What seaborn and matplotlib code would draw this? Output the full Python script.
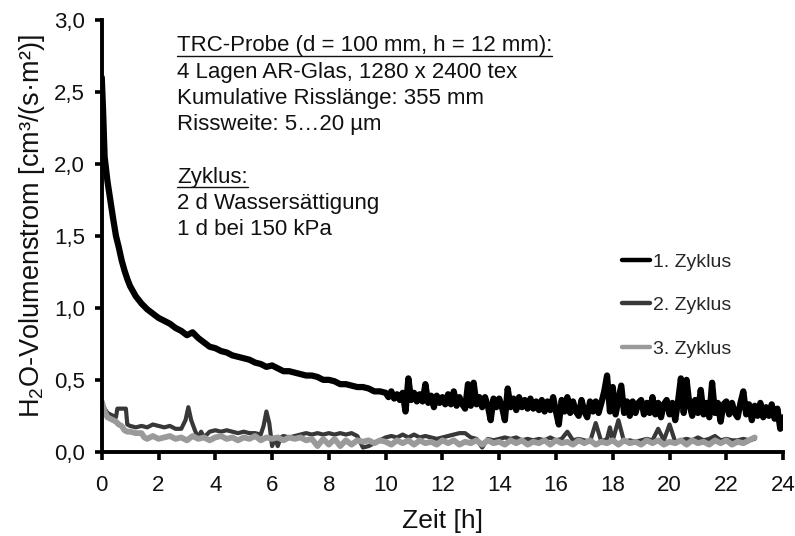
import numpy as np
import pandas as pd
import matplotlib
matplotlib.use("Agg")
import matplotlib.pyplot as plt
import seaborn as sns
from matplotlib.lines import Line2D

# --- data ---
# 1. Zyklus: smooth decay up to 10 h, noisy plateau afterwards
t1_early = [0.0, 0.05, 0.1, 0.2, 0.3, 0.4, 0.5, 0.6, 0.7, 0.8, 0.9, 1.0, 1.2, 1.4, 1.6, 1.8,
            2.0, 2.2, 2.4, 2.6, 2.8, 3.0, 3.2, 3.4, 3.6, 3.8, 4.0, 4.2, 4.4, 4.6, 4.8,
            5.0, 5.2, 5.4, 5.6, 5.8, 6.0, 6.2, 6.4, 6.6, 6.8, 7.0, 7.2, 7.4, 7.6, 7.8,
            8.0, 8.2, 8.4, 8.6, 8.8, 9.0, 9.2, 9.4, 9.6, 9.8]
v1_early = [2.60, 2.35, 2.05, 1.88, 1.75, 1.62, 1.50, 1.42, 1.33, 1.26, 1.20, 1.15, 1.08, 1.03, 0.99, 0.96,
            0.93, 0.91, 0.89, 0.86, 0.84, 0.81, 0.83, 0.79, 0.76, 0.73, 0.72, 0.70, 0.69, 0.67, 0.66,
            0.65, 0.64, 0.62, 0.61, 0.59, 0.60, 0.58, 0.56, 0.56, 0.55, 0.54, 0.53, 0.53, 0.52, 0.50,
            0.50, 0.49, 0.47, 0.47, 0.46, 0.45, 0.45, 0.44, 0.42, 0.42]
t1_late = np.round(np.arange(10.0, 24.01, 0.1), 1)
v1_late = [0.41, 0.38, 0.42, 0.37, 0.40, 0.36, 0.41, 0.28, 0.51, 0.36,
           0.41, 0.35, 0.40, 0.35, 0.47, 0.34, 0.39, 0.31, 0.39, 0.34,
           0.38, 0.33, 0.40, 0.33, 0.42, 0.32, 0.38, 0.33, 0.30, 0.47,
           0.32, 0.48, 0.33, 0.38, 0.31, 0.38, 0.32, 0.22, 0.37, 0.31,
           0.37, 0.31, 0.22, 0.44, 0.31, 0.37, 0.29, 0.38, 0.31, 0.36,
           0.30, 0.37, 0.30, 0.35, 0.29, 0.36, 0.28, 0.35, 0.29, 0.38,
           0.28, 0.19, 0.36, 0.28, 0.38, 0.27, 0.35, 0.28, 0.25, 0.36,
           0.28, 0.24, 0.35, 0.28, 0.35, 0.27, 0.34, 0.42, 0.53, 0.28,
           0.45, 0.26, 0.36, 0.46, 0.27, 0.35, 0.25, 0.35, 0.27, 0.34,
           0.36, 0.26, 0.34, 0.27, 0.38, 0.26, 0.34, 0.24, 0.33, 0.36,
           0.26, 0.34, 0.22, 0.35, 0.51, 0.27, 0.50, 0.33, 0.25, 0.36,
           0.27, 0.43, 0.26, 0.34, 0.24, 0.48, 0.27, 0.34, 0.21, 0.33,
           0.35, 0.26, 0.34, 0.27, 0.24, 0.34, 0.42, 0.26, 0.33, 0.22,
           0.32, 0.25, 0.34, 0.24, 0.31, 0.25, 0.33, 0.23, 0.30, 0.16,
           0.24]

# 2. Zyklus
t2 = [0.0, 0.1, 0.2, 0.3, 0.4, 0.5, 0.55, 0.7, 0.85, 0.9, 1.0, 1.2, 1.4, 1.6, 1.8,
      2.0, 2.2, 2.4, 2.6, 2.8, 2.95, 3.05, 3.15, 3.3, 3.4, 3.5, 3.6, 3.8,
      4.0, 4.2, 4.4, 4.6, 4.8, 5.0, 5.2, 5.4, 5.6, 5.7, 5.8, 5.9,
      6.0, 6.1, 6.2, 6.3, 6.4, 6.6, 6.8, 7.0, 7.2, 7.4, 7.6, 7.8,
      8.0, 8.2, 8.4, 8.6, 8.8, 9.0, 9.2, 9.4, 9.6, 9.8,
      10.0, 10.2, 10.4, 10.6, 10.8, 11.0, 11.2, 11.4, 11.6, 11.8,
      12.0, 12.2, 12.4, 12.6, 12.8, 13.0, 13.2, 13.4, 13.6, 13.8,
      14.0, 14.2, 14.4, 14.6, 14.8, 15.0, 15.2, 15.4, 15.6, 15.8,
      16.0, 16.2, 16.4, 16.6, 16.8, 17.0, 17.2, 17.4, 17.6, 17.8, 17.9,
      18.0, 18.2, 18.4, 18.6, 18.8, 19.0, 19.2, 19.4, 19.6, 19.8,
      20.0, 20.2, 20.4, 20.6, 20.8, 21.0, 21.2, 21.4, 21.6, 21.8,
      22.0, 22.2, 22.4, 22.6, 22.8, 23.0]
v2 = [0.33, 0.30, 0.27, 0.26, 0.25, 0.24, 0.30, 0.30, 0.30, 0.19, 0.18, 0.17, 0.18, 0.17, 0.19,
      0.18, 0.17, 0.18, 0.16, 0.16, 0.22, 0.31, 0.22, 0.14, 0.10, 0.14, 0.10, 0.14,
      0.15, 0.14, 0.15, 0.14, 0.13, 0.14, 0.13, 0.13, 0.12, 0.18, 0.28, 0.20,
      0.04, 0.10, 0.04, 0.10, 0.11, 0.10, 0.11, 0.12, 0.13, 0.12, 0.13, 0.12,
      0.13, 0.12, 0.13, 0.12, 0.13, 0.11, 0.03, 0.04, 0.06, 0.08,
      0.10, 0.11, 0.10, 0.12, 0.10, 0.12, 0.10, 0.11, 0.10, 0.09,
      0.10, 0.11, 0.12, 0.13, 0.13, 0.10, 0.09, 0.03, 0.09, 0.08,
      0.09, 0.10, 0.09, 0.10, 0.08, 0.09, 0.08, 0.09, 0.08, 0.10,
      0.08, 0.09, 0.14, 0.08, 0.09, 0.08, 0.07, 0.20, 0.07, 0.09, 0.17,
      0.08, 0.22, 0.07, 0.08, 0.07, 0.08, 0.09, 0.08, 0.16, 0.08,
      0.19, 0.07, 0.08, 0.09, 0.08, 0.10, 0.08, 0.09, 0.11, 0.08,
      0.09, 0.08, 0.08, 0.09, 0.08, 0.09]

# 3. Zyklus
t3_early = [0.0, 0.1, 0.2, 0.3, 0.4, 0.5, 0.6, 0.7, 0.8, 0.9, 1.0, 1.2, 1.4, 1.5, 1.6, 1.8, 2.0, 2.2]
v3_early = [0.35, 0.28, 0.24, 0.23, 0.22, 0.21, 0.19, 0.18, 0.15, 0.14, 0.14, 0.13, 0.13, 0.10, 0.09, 0.11, 0.09, 0.10]
t3_late = np.round(np.arange(2.4, 23.01, 0.2), 1)
v3_late = [0.11, 0.09, 0.10, 0.08, 0.11, 0.09, 0.10, 0.08, 0.10, 0.11,
           0.09, 0.10, 0.08, 0.10, 0.09, 0.11, 0.08, 0.10, 0.09, 0.10,
           0.08, 0.10, 0.09, 0.10, 0.08, 0.09, 0.04, 0.09, 0.05, 0.09,
           0.04, 0.08, 0.05, 0.08, 0.07, 0.08, 0.06, 0.08, 0.07, 0.05,
           0.08, 0.06, 0.08, 0.05, 0.08, 0.06, 0.07, 0.05, 0.08, 0.06,
           0.08, 0.05, 0.07, 0.06, 0.08, 0.05, 0.08, 0.06, 0.07, 0.05,
           0.08, 0.06, 0.08, 0.05, 0.07, 0.06, 0.08, 0.05, 0.08, 0.06,
           0.07, 0.05, 0.08, 0.06, 0.08, 0.05, 0.07, 0.06, 0.08, 0.05,
           0.08, 0.06, 0.07, 0.05, 0.08, 0.06, 0.08, 0.05, 0.07, 0.06,
           0.08, 0.05, 0.08, 0.06, 0.07, 0.05, 0.08, 0.06, 0.08, 0.05,
           0.07, 0.06, 0.08, 0.10]

series_names = ["1. Zyklus", "2. Zyklus", "3. Zyklus"]
series_colors = ["#000000", "#383838", "#9a9a9a"]
x_ticks = list(range(0, 25, 2))
y_ticks = [0.0, 0.5, 1.0, 1.5, 2.0, 2.5, 3.0]
y_tick_labels = ["0,0", "0,5", "1,0", "1,5", "2,0", "2,5", "3,0"]
info_lines = ["TRC-Probe (d = 100 mm, h = 12 mm):",
              "4 Lagen AR-Glas, 1280 x 2400 tex",
              "Kumulative Risslänge: 355 mm",
              "Rissweite: 5…20 µm",
              "",
              "Zyklus:",
              "2 d Wassersättigung",
              "1 d bei 150 kPa"]
underlined = [0, 5]

df1 = pd.DataFrame({"t": list(t1_early) + list(t1_late), "v": list(v1_early) + list(v1_late)})
df2 = pd.DataFrame({"t": t2, "v": v2})
df3 = pd.DataFrame({"t": list(t3_early) + list(t3_late), "v": list(v3_early) + list(v3_late)})

sns.set_style("ticks")
plt.rcParams["font.family"] = ["Liberation Sans", "DejaVu Sans"]
plt.rcParams["mathtext.fontset"] = "custom"
plt.rcParams["mathtext.rm"] = "Liberation Sans"
plt.rcParams["mathtext.it"] = "Liberation Sans"

fig = plt.figure(figsize=(7.95, 5.36), dpi=100)
ax = fig.add_axes([0.128, 0.157, 0.857, 0.806])

widths = [4.5, 3.0, 4.2]
for df, name, col, lw in zip([df1, df2, df3], series_names, series_colors, widths):
    sns.lineplot(data=df, x="t", y="v", ax=ax, color=col, linewidth=lw,
                 estimator=None, sort=False, label=name, legend=False)

ax.set_xlim(0, 24)
ax.set_ylim(0, 3.0)
ax.set_xticks(x_ticks)
ax.set_yticks(y_ticks)
ax.set_yticklabels(y_tick_labels)
ax.tick_params(axis="both", labelsize=16, width=2.6, color="black", labelcolor="#111111")
ax.tick_params(axis="x", length=6, pad=11)
ax.tick_params(axis="y", length=5, pad=7)
for side in ["top", "right"]:
    ax.spines[side].set_visible(False)
for side in ["left", "bottom"]:
    ax.spines[side].set_linewidth(2.8)
    ax.spines[side].set_color("black")

ax.set_xlabel("Zeit [h]", fontsize=19, color="#111111", labelpad=9)
ax.set_ylabel(r"H$_2$O-Volumenstrom [cm³/(s·m²)]", fontsize=19.5, color="#111111")
ax.yaxis.set_label_coords(-0.080, 0.523)

handles = [Line2D([], [], color=c, linewidth=3.2) for c in series_colors]
ax.legend(handles, series_names, loc="upper left", bbox_to_anchor=(0.782, 0.528),
          bbox_transform=fig.transFigure, frameon=False, fontsize=14,
          handlelength=1.45, handletextpad=0.15, labelspacing=1.33,
          borderpad=0, borderaxespad=0)

# info text block
texts = []
for i, line in enumerate(info_lines):
    if not line:
        continue
    y = 1 - (46 + i * 26.2) / 536
    txt = fig.text(0.2226, y, line, fontsize=16, va="center", ha="left", color="#111111")
    texts.append((i, txt))

fig.canvas.draw()
renderer = fig.canvas.get_renderer()
inv = fig.transFigure.inverted()
for i, txt in texts:
    if i in underlined:
        bb = txt.get_window_extent(renderer)
        (x0, y0), (x1, _) = inv.transform([(bb.x0, bb.y0 + 1), (bb.x1, bb.y1)])
        fig.add_artist(Line2D([x0, x1], [y0, y0], transform=fig.transFigure,
                              color="#111111", linewidth=1.0))

fig.savefig("out.png", dpi=100)
